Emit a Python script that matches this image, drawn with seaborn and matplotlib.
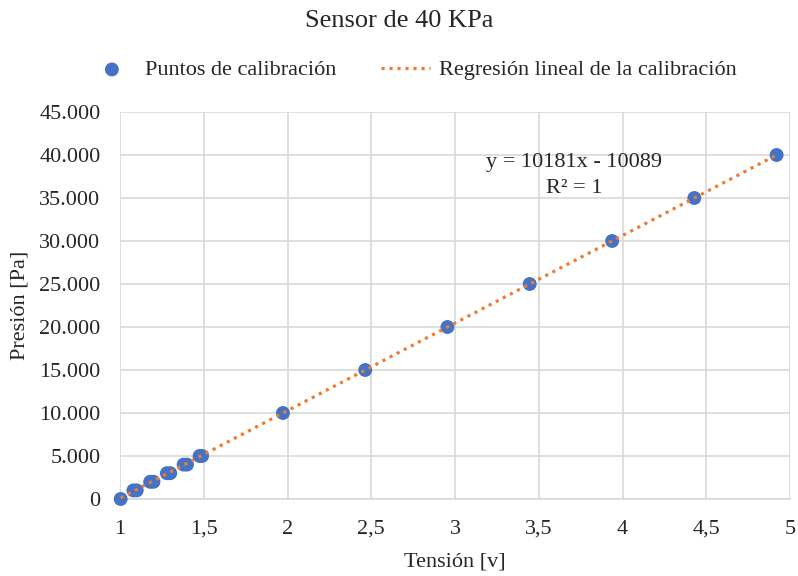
import matplotlib
matplotlib.use("Agg")
import matplotlib.pyplot as plt
import seaborn as sns
import numpy as np
import pandas as pd
from matplotlib.ticker import FuncFormatter, MultipleLocator

tension = [1.004, 1.08, 1.10, 1.18, 1.20, 1.28, 1.30, 1.38, 1.40, 1.475, 1.49,
           1.973, 2.464, 2.955, 3.446, 3.938, 4.429, 4.920]
presion = [0, 1000, 1000, 2000, 2000, 3000, 3000, 4000, 4000, 5000, 5000,
           10000, 15000, 20000, 25000, 30000, 35000, 40000]
slope = 10181
intercept = -10089

df = pd.DataFrame({"Tensión": tension, "Presión": presion})

sns.set_theme(style="white")
plt.rcParams['font.family'] = ['Liberation Serif', 'DejaVu Serif']

fig = plt.figure(figsize=(7.98, 5.76), dpi=100)
ax = fig.add_axes([120/798, 1-499/576, (790-120)/798, (499-112)/576])

sns.scatterplot(data=df, x="Tensión", y="Presión", ax=ax, color="#4472C4",
                s=100, edgecolor="none", label="Puntos de calibración", zorder=3,
                clip_on=False)
xs = np.linspace(min(tension), max(tension), 200)
sns.lineplot(x=xs, y=slope*xs+intercept, ax=ax, color="#ED7D31", linestyle=(0, (1, 1.5)),
             linewidth=2.3, label="Regresión lineal de la calibración", zorder=4)

ax.set_xlim(1, 5)
ax.set_ylim(0, 45000)
ax.xaxis.set_major_locator(MultipleLocator(0.5))
ax.yaxis.set_major_locator(MultipleLocator(5000))
ax.xaxis.set_major_formatter(FuncFormatter(lambda v, p: (f"{v:g}").replace(".", ",")))
ax.yaxis.set_major_formatter(FuncFormatter(lambda v, p: f"{int(v):,}".replace(",", ".")))
ax.grid(True, color="#D9D9D9", linewidth=1.2)
for s in ["top", "right", "left"]:
    ax.spines[s].set_visible(False)
ax.spines["bottom"].set_color("#D9D9D9")
ax.tick_params(axis="y", labelsize=16, colors="#262626", length=0, pad=14)
ax.tick_params(axis="x", labelsize=16, colors="#262626", length=0, pad=15)
ax.set_xlabel("Tensión [v]", fontsize=16, color="#262626", labelpad=10)
ax.set_ylabel("Presión [Pa]", fontsize=16, color="#262626", labelpad=7)

ax.text(3.71, 39070, "y = 10181x - 10089", ha="center", va="center",
        fontsize=16, color="#262626")
ax.text(3.71, 36160, "R² = 1", ha="center", va="center",
        fontsize=16, color="#262626")

fig.text(0.5, 1-21/576, "Sensor de 40 KPa", ha="center", va="center", fontsize=19, color="#262626")
ax.legend(loc="center", bbox_to_anchor=((412-120)/670, 1 + (112-70)/387), ncol=2, frameon=False,
          fontsize=16, handlelength=2.2, handletextpad=0.4, columnspacing=2.0,
          labelcolor="#262626")

fig.savefig("out.png", dpi=100)
